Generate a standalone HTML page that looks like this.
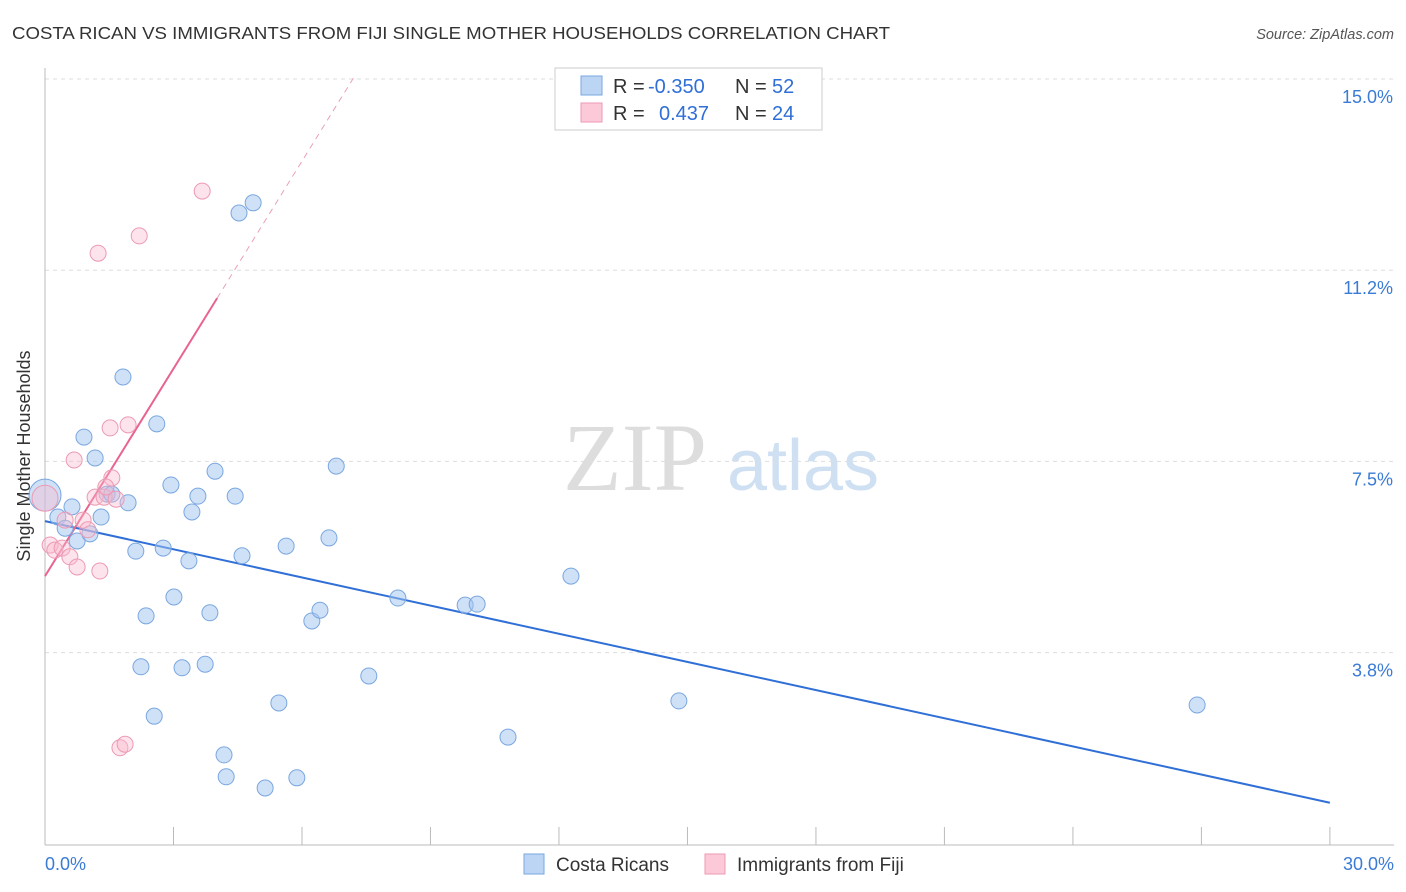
<!DOCTYPE html>
<html><head><meta charset="utf-8"><style>
body{margin:0;background:#fff;font-family:"Liberation Sans",sans-serif;}
svg{display:block}
</style></head><body>
<svg width="1406" height="892" id="chart">
<text x="12" y="39" font-size="17.5" fill="#333" textLength="878" lengthAdjust="spacingAndGlyphs">COSTA RICAN VS IMMIGRANTS FROM FIJI SINGLE MOTHER HOUSEHOLDS CORRELATION CHART</text>
<text x="1394" y="39" font-size="14.5" fill="#555" font-style="italic" text-anchor="end">Source: ZipAtlas.com</text>
<text x="30" y="456" font-size="18" fill="#333" text-anchor="middle" transform="rotate(-90 30 456)">Single Mother Households</text>
<g>
<text x="635" y="490" font-size="96" fill="#ddd" font-family="Liberation Serif,serif" text-anchor="middle">ZIP</text>
<text x="803" y="490" font-size="72" fill="#cfe0f3" text-anchor="middle">atlas</text></g>
<g id="grid"></g><g id="axes"></g><g id="lines"></g><g id="pts"></g>
<g>
<rect x="555" y="68" width="267" height="62" fill="#fff" stroke="#ccc"/>
<rect x="581" y="76" width="21" height="19" fill="#bcd5f5" stroke="#7aa7e0"/>
<rect x="581" y="103" width="21" height="19" fill="#fcc9d8" stroke="#ec9ab4"/>
<text x="613" y="93" font-size="20" fill="#333">R = <tspan x="648" fill="#2f6fd6">-0.350</tspan><tspan x="735">N = </tspan><tspan x="772" fill="#2f6fd6">52</tspan></text>
<text x="613" y="120" font-size="20" fill="#333">R = <tspan x="659" fill="#2f6fd6">0.437</tspan><tspan x="735">N = </tspan><tspan x="772" fill="#2f6fd6">24</tspan></text>
</g>
<g>
<rect x="524" y="854" width="20" height="20" fill="#bcd5f5" stroke="#7aa7e0"/>
<text x="556" y="871" font-size="19" fill="#333">Costa Ricans</text>
<rect x="705" y="854" width="20" height="20" fill="#fcc9d8" stroke="#ec9ab4"/>
<text x="737" y="871" font-size="19" fill="#333">Immigrants from Fiji</text>
</g>
</svg>
<script>
const blueX=[0,0.30,0.47,0.63,0.75,0.91,1.05,1.17,1.31,1.45,1.56,1.82,1.94,2.12,2.24,2.36,2.55,2.61,2.76,2.94,3.01,3.20,3.36,3.43,3.57,3.74,3.85,3.97,4.18,4.23,4.44,4.53,4.60,4.86,5.14,5.46,5.63,5.88,6.23,6.42,6.63,6.80,7.56,8.24,9.81,10.09,10.81,12.28,14.80,26.90];
const blueY=[6.83,6.40,6.18,6.60,5.93,7.97,6.07,7.56,6.40,6.85,6.85,9.15,6.68,5.73,3.46,4.46,2.49,8.23,5.79,7.03,4.83,3.44,5.54,6.50,6.81,3.51,4.52,7.30,1.73,1.30,6.81,12.37,5.64,12.57,1.08,2.75,5.83,1.28,4.36,4.57,5.99,7.40,3.28,4.81,4.67,4.69,2.08,5.24,2.79,2.71];
const pinkX=[0,0.12,0.23,0.40,0.47,0.58,0.68,0.75,0.89,1.00,1.17,1.28,1.38,1.52,1.56,1.66,1.75,1.87,1.94,1.24,2.20,3.67,1.42];
const pinkY=[6.77,5.85,5.75,5.79,6.34,5.62,7.52,5.42,6.34,6.15,6.79,5.34,6.79,8.15,7.17,6.75,1.87,1.94,8.21,11.58,11.92,12.80,6.99];
const blueTrend=[6.32,-0.1843];
const pinkTrend=[5.24,1.358];
const yTicks=[3.8,7.5,11.2,15.0];
const yTickLabels=["3.8%","7.5%","11.2%","15.0%"];
const xTicks=[0,3,6,9,12,15,18,21,24,27,30];
const xs=v=>45+v*42.83, ys=v=>843-v*50.93;
const NS="http://www.w3.org/2000/svg";
function mk(p,t,a){const e=document.createElementNS(NS,t);for(const k in a)e.setAttribute(k,a[k]);p.appendChild(e);return e;}
const G=id=>document.getElementById(id);
yTicks.forEach((v,i)=>{const y=79+(3-i)*191.2;
 const l=mk(G('grid'),'line',{x1:45,x2:1394,y1:y,y2:y,stroke:'#ddd','stroke-dasharray':'4,4'});
 
 
 const t=mk(G('axes'),'text',{x:1393,y:y+24,'font-size':18,fill:'#3a7bd5','text-anchor':'end'});t.textContent=yTickLabels[i];
 
 });
const ax=mk(G('axes'),'line',{x1:45,x2:45,y1:68,y2:845,stroke:'#bbb'});


const bx=mk(G('axes'),'line',{x1:45,x2:1394,y1:845,y2:845,stroke:'#bbb'});


xTicks.forEach(v=>{const t=mk(G('axes'),'line',{x1:xs(v),x2:xs(v),y1:827,y2:845,stroke:'#bbb'});
 
 });
[[0,'0.0%','start',45],[30,'30.0%','end',1394]].forEach(d=>{const t=mk(G('axes'),'text',{x:d[3],y:870,'font-size':18,fill:'#3a7bd5','text-anchor':d[2]});t.textContent=d[1];
 
 });
let l=mk(G('lines'),'line',{x1:xs(0),y1:ys(blueTrend[0]),x2:xs(30),y2:ys(blueTrend[0]+30*blueTrend[1]),stroke:'#2f6fd6','stroke-width':2});


l=mk(G('lines'),'line',{x1:xs(0),y1:ys(pinkTrend[0]),x2:xs(4.02),y2:ys(pinkTrend[0]+4.02*pinkTrend[1]),stroke:'#e8648e','stroke-width':2});


l=mk(G('lines'),'line',{x1:xs(4.02),y1:ys(pinkTrend[0]+4.02*pinkTrend[1]),x2:xs(7.2),y2:ys(pinkTrend[0]+7.2*pinkTrend[1]),stroke:'#eaa0b8','stroke-width':1,'stroke-dasharray':'6,5'});


blueX.forEach((v,i)=>{const c=mk(G('pts'),'circle',{cx:xs(v),cy:ys(blueY[i]),r:i==0?16:8,fill:'rgba(160,196,240,0.5)',stroke:'#7aa7e0','stroke-width':1});
 
 });
pinkX.forEach((v,i)=>{const c=mk(G('pts'),'circle',{cx:xs(v),cy:ys(pinkY[i]),r:i==0?13:8,fill:'rgba(250,185,205,0.4)',stroke:'#ec9ab4','stroke-width':1});
 
 });
</script>
</body></html>
